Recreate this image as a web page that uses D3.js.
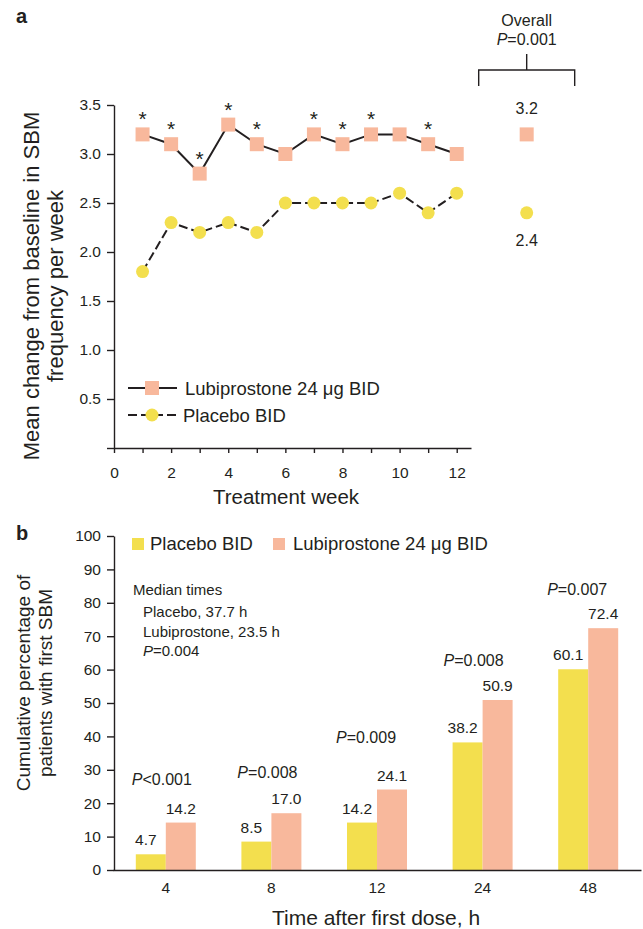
<!DOCTYPE html>
<html>
<head>
<meta charset="utf-8">
<script src="https://cdn.jsdelivr.net/npm/d3@7"></script>
<style>
  body { margin: 0; background: #fff; }
  svg text { font-family: "Liberation Sans", Arial, sans-serif; fill: #231f20; }
  .axis path, .axis line { stroke: #231f20; stroke-width: 1.4; }
  .axis text { font-size: 15.5px; }
</style>
</head>
<body>
<div class="chartArea"></div>
<script>
// panel a: weekly SBM change
const weeks = [1, 2, 3, 4, 5, 6, 7, 8, 9, 10, 11, 12]
const lubiWeekly = [3.2, 3.1, 2.8, 3.3, 3.1, 3.0, 3.2, 3.1, 3.2, 3.2, 3.1, 3.0]
const placeboWeekly = [1.8, 2.3, 2.2, 2.3, 2.2, 2.5, 2.5, 2.5, 2.5, 2.6, 2.4, 2.6]
const starWeeks = [1, 2, 3, 4, 5, 7, 8, 9, 11]
const overallLubi = 3.2
const overallPlacebo = 2.4
const overallP = "=0.001"
const yTicksA = [0, 0.5, 1.0, 1.5, 2.0, 2.5, 3.0, 3.5]

// panel b: time to first SBM
const hours = ["4", "8", "12", "24", "48"]
const placeboPct = [4.7, 8.5, 14.2, 38.2, 60.1]
const lubiPct = [14.2, 17.0, 24.1, 50.9, 72.4]
const pLabels = ["<0.001", "=0.008", "=0.009", "=0.008", "=0.007"]
const pLabelLevel = [25.4, 27.5, 38.0, 61.1, 82.3]
const medianLines = ["Placebo, 37.7 h", "Lubiprostone, 23.5 h"]
const medianP = "=0.004"

const width = 643, height = 929
const salmon = "#f8b89c", yellow = "#f3df4e", ink = "#231f20"

const svg = d3.select(".chartArea")
  .append("svg")
  .attr("width", width)
  .attr("height", height)

// ---------- panel a ----------
const xA = d3.scaleLinear().domain([0, 12.5]).range([114, 471])
const yA = d3.scaleLinear().domain([0, 3.5]).range([448, 105])

svg.append("text").attr("x", 16).attr("y", 23)
  .style("font-weight", "bold").style("font-size", "20px").text("a")

svg.append("g").classed("axis", true)
  .attr("transform", "translate(0,448)")
  .call(d3.axisBottom(xA).tickValues(d3.range(0, 13)).tickSize(5).tickSizeOuter(0)
    .tickPadding(14).tickFormat(d => d % 2 === 0 ? d : ""))

svg.append("g").classed("axis", true)
  .attr("transform", "translate(114,0)")
  .call(d3.axisLeft(yA).tickValues(yTicksA).tickSize(7).tickSizeOuter(0)
    .tickPadding(6).tickFormat(d => d === 0 ? "" : d.toFixed(1)))

svg.append("text").attr("x", 286).attr("y", 504).attr("text-anchor", "middle")
  .style("font-size", "20.5px").text("Treatment week")

const yTitleA = svg.append("text").attr("transform", "translate(0,286) rotate(-90)")
  .attr("text-anchor", "middle").style("font-size", "22px")
yTitleA.append("tspan").attr("x", 0).attr("y", 39).text("Mean change from baseline in SBM")
yTitleA.append("tspan").attr("x", 0).attr("y", 63).text("frequency per week")

const lineA = (vals) => d3.line().x((d, i) => xA(weeks[i])).y(d => yA(d))(vals)

svg.append("path").attr("d", lineA(placeboWeekly))
  .attr("fill", "none").attr("stroke", ink).attr("stroke-width", 2)
  .attr("stroke-dasharray", "9,4")
svg.append("path").attr("d", lineA(lubiWeekly))
  .attr("fill", "none").attr("stroke", ink).attr("stroke-width", 2)

svg.selectAll(".pbo").data(placeboWeekly).enter().append("circle")
  .attr("cx", (d, i) => xA(weeks[i])).attr("cy", d => yA(d))
  .attr("r", 6.5).attr("fill", yellow)

svg.selectAll(".lub").data(lubiWeekly).enter().append("rect")
  .attr("x", (d, i) => xA(weeks[i]) - 7).attr("y", d => yA(d) - 7)
  .attr("width", 14).attr("height", 14).attr("fill", salmon)

svg.selectAll(".star").data(starWeeks).enter().append("text")
  .attr("x", d => xA(d)).attr("y", d => yA(lubiWeekly[d - 1]) - 8)
  .attr("text-anchor", "middle").style("font-size", "21px").text("*")

// overall column
const ox = xA(14.45)
svg.append("rect").attr("x", ox - 7).attr("y", yA(overallLubi) - 7)
  .attr("width", 14).attr("height", 14).attr("fill", salmon)
svg.append("circle").attr("cx", ox).attr("cy", yA(overallPlacebo))
  .attr("r", 6.5).attr("fill", yellow)
svg.append("text").attr("x", ox).attr("y", yA(overallLubi) - 20)
  .attr("text-anchor", "middle").style("font-size", "16px").text(overallLubi.toFixed(1))
svg.append("text").attr("x", ox).attr("y", yA(overallPlacebo) + 33)
  .attr("text-anchor", "middle").style("font-size", "16px").text(overallPlacebo.toFixed(1))

svg.append("path")
  .attr("d", `M${ox - 48},86V70H${ox + 48}V86M${ox},70V54`)
  .attr("fill", "none").attr("stroke", ink).attr("stroke-width", 1.4)
svg.append("text").attr("x", ox).attr("y", 26).attr("text-anchor", "middle")
  .style("font-size", "16px").text("Overall")
const op = svg.append("text").attr("x", ox).attr("y", 45).attr("text-anchor", "middle")
  .style("font-size", "16px")
op.append("tspan").style("font-style", "italic").text("P")
op.append("tspan").text(overallP)

// legend a
svg.append("line").attr("x1", 128).attr("x2", 177).attr("y1", 388).attr("y2", 388)
  .attr("stroke", ink).attr("stroke-width", 2)
svg.append("rect").attr("x", 145).attr("y", 381).attr("width", 14).attr("height", 14).attr("fill", salmon)
svg.append("text").attr("x", 185).attr("y", 395).style("font-size", "18.5px").text("Lubiprostone 24 \u03bcg BID")
svg.append("line").attr("x1", 128).attr("x2", 177).attr("y1", 415).attr("y2", 415)
  .attr("stroke", ink).attr("stroke-width", 2).attr("stroke-dasharray", "9,4")
svg.append("circle").attr("cx", 152).attr("cy", 415).attr("r", 6.5).attr("fill", yellow)
svg.append("text").attr("x", 183).attr("y", 422).style("font-size", "18.5px").text("Placebo BID")

// ---------- panel b ----------
const xB = d3.scaleBand().domain(hours).range([113, 641])
const xInner = d3.scaleBand().domain(["placebo", "lubi"]).range([-30, 30])
const yB = d3.scaleLinear().domain([0, 100]).range([870, 536])

svg.append("text").attr("x", 16).attr("y", 540)
  .style("font-weight", "bold").style("font-size", "20px").text("b")

const groups = svg.selectAll(".grp").data(hours).enter().append("g")
  .attr("transform", d => `translate(${xB(d) + xB.bandwidth() / 2},0)`)

groups.append("rect")
  .attr("x", xInner("placebo")).attr("width", xInner.bandwidth())
  .attr("y", (d, i) => yB(placeboPct[i])).attr("height", (d, i) => yB(0) - yB(placeboPct[i]))
  .attr("fill", yellow)
groups.append("rect")
  .attr("x", xInner("lubi")).attr("width", xInner.bandwidth())
  .attr("y", (d, i) => yB(lubiPct[i])).attr("height", (d, i) => yB(0) - yB(lubiPct[i]))
  .attr("fill", salmon)

groups.append("text")
  .attr("x", xInner("placebo") + xInner.bandwidth() / 2 - 5)
  .attr("y", (d, i) => yB(placeboPct[i]) - 9)
  .attr("text-anchor", "middle").style("font-size", "15.5px")
  .text((d, i) => placeboPct[i].toFixed(1))
groups.append("text")
  .attr("x", xInner("lubi") + xInner.bandwidth() / 2)
  .attr("y", (d, i) => yB(lubiPct[i]) - 9)
  .attr("text-anchor", "middle").style("font-size", "15.5px")
  .text((d, i) => lubiPct[i].toFixed(1))

const pOffsets = [-4, -4, -11, -9, -11]
const pt = groups.append("text")
  .attr("x", (d, i) => pOffsets[i]).attr("y", (d, i) => yB(pLabelLevel[i]))
  .attr("text-anchor", "middle").style("font-size", "16px")
pt.append("tspan").style("font-style", "italic").text("P")
pt.append("tspan").text((d, i) => pLabels[i])

svg.append("g").classed("axis", true)
  .attr("transform", "translate(0,870)")
  .call(d3.axisBottom(xB).tickSize(0).tickSizeOuter(0).tickPadding(12))

svg.append("g").classed("axis", true)
  .attr("transform", "translate(114,0)")
  .call(d3.axisLeft(yB).tickValues(d3.range(0, 101, 10)).tickSize(7).tickSizeOuter(0).tickPadding(6))

svg.append("text").attr("x", 376).attr("y", 925).attr("text-anchor", "middle")
  .style("font-size", "21px").text("Time after first dose, h")

const yTitleB = svg.append("text").attr("transform", "translate(0,683) rotate(-90)")
  .attr("text-anchor", "middle").style("font-size", "19px")
yTitleB.append("tspan").attr("x", 0).attr("y", 30).text("Cumulative percentage of")
yTitleB.append("tspan").attr("x", 0).attr("y", 52).text("patients with first SBM")

// legend b
svg.append("rect").attr("x", 132).attr("y", 538).attr("width", 12).attr("height", 12).attr("fill", yellow)
svg.append("text").attr("x", 150).attr("y", 550).style("font-size", "18.5px").text("Placebo BID")
svg.append("rect").attr("x", 273).attr("y", 538).attr("width", 12).attr("height", 12).attr("fill", salmon)
svg.append("text").attr("x", 293).attr("y", 550).style("font-size", "18.5px").text("Lubiprostone 24 \u03bcg BID")

// median times note
svg.append("text").attr("x", 133).attr("y", 595).style("font-size", "15px").text("Median times")
svg.selectAll(".med").data(medianLines).enter().append("text")
  .attr("x", 143).attr("y", (d, i) => 617 + i * 20).style("font-size", "15px").text(d => d)
const mp = svg.append("text").attr("x", 143).attr("y", 656).style("font-size", "15px")
mp.append("tspan").style("font-style", "italic").text("P")
mp.append("tspan").text(medianP)
</script>
</body>
</html>
